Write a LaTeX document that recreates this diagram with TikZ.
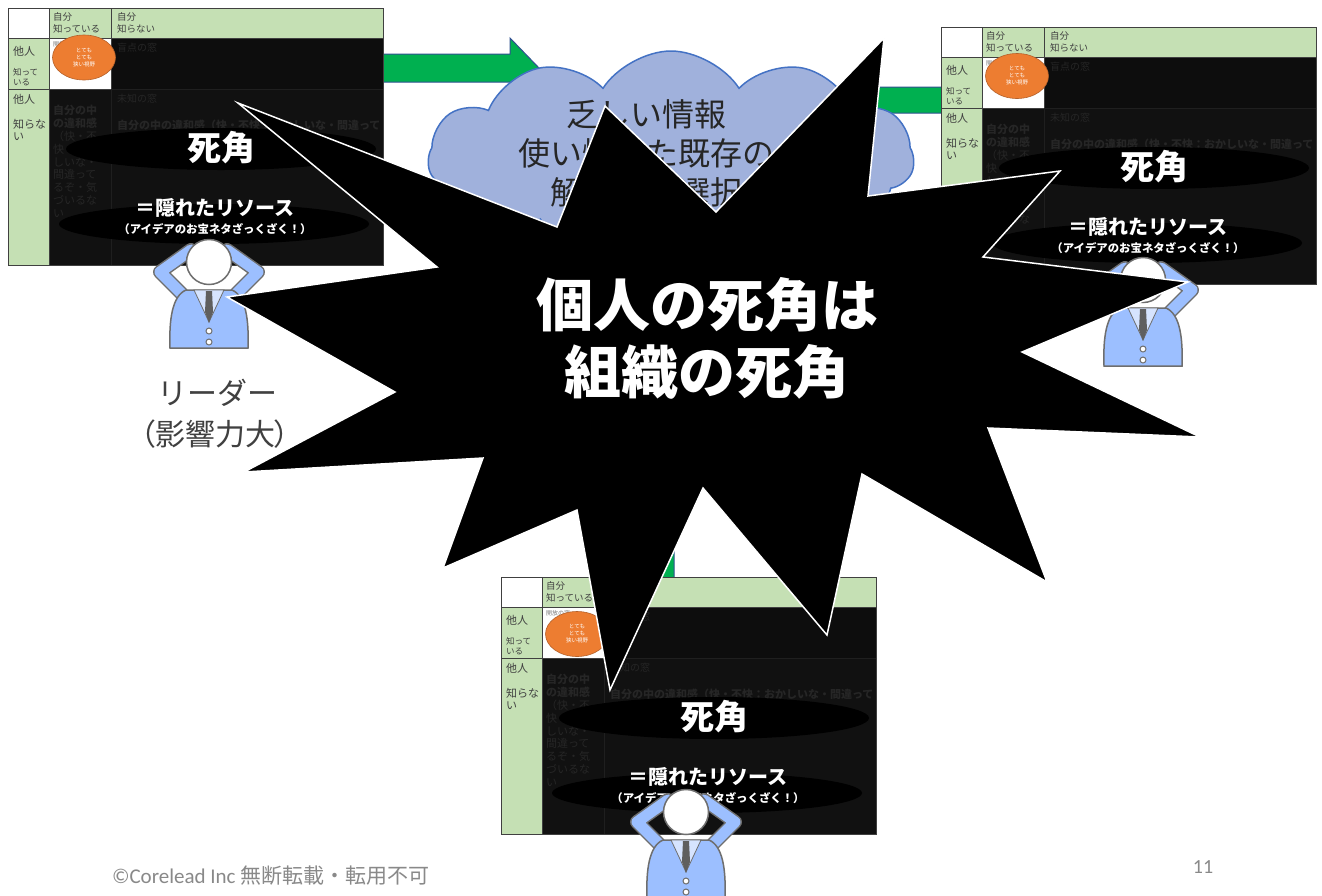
\documentclass[tikz,border=0pt]{standalone}
\usepackage{fontspec}
\setmainfont{Noto Sans CJK JP}
\newfontfamily\jpprop{Noto Sans CJK JP}[RawFeature=+palt]
\newfontfamily\latinfont{Carlito}
\usetikzlibrary{shapes.symbols,shapes.geometric}

\definecolor{jgreen}{HTML}{C5E0B4}
\definecolor{cellA}{HTML}{0D0D0D}
\definecolor{cellB}{HTML}{111111}
\definecolor{ghostc}{HTML}{262626}
\definecolor{gridc}{HTML}{404040}
\definecolor{eorange}{HTML}{ED7D31}
\definecolor{eorangeline}{HTML}{B5612A}
\definecolor{arrowg}{HTML}{00B050}
\definecolor{arrowb}{HTML}{2F528F}
\definecolor{cloudf}{HTML}{A0B1DC}
\definecolor{cloudl}{HTML}{4472C4}
\definecolor{suit}{HTML}{9CBFFF}
\definecolor{shirt}{HTML}{D6E4FF}
\definecolor{pline}{HTML}{6E6E6E}
\definecolor{tiec}{HTML}{5F5F5F}
\definecolor{textg}{HTML}{404040}
\definecolor{footg}{HTML}{898989}

\newcommand{\fsz}[2]{\fontsize{#1}{#2}\selectfont}

\tikzset{
  txt/.style={inner sep=0pt, outer sep=0pt},
  hdr/.style={txt, anchor=north west, align=left, text=textg, font=\fsz{9.5}{12.5}},
  side/.style={txt, anchor=north west, align=left, text=textg, font=\fsz{11}{12}},
  sidesm/.style={txt, anchor=north west, align=left, text=textg, font=\fsz{8.5}{10}},
  tinytext/.style={txt, anchor=north west, text=gray, font=\fsz{6}{7}},
  oval/.style={ellipse, draw=eorangeline, line width=0.6, fill=eorange, text=white,
    minimum width=63pt, minimum height=45pt, inner sep=0pt, align=center, font=\fsz{5.5}{7}},
  ghost/.style={txt, anchor=north west, text=ghostc, font=\fsz{10}{12}},
  ghostbold/.style={txt, anchor=north west, text=ghostc, font=\bfseries\fsz{11}{12}},
  ghostcol/.style={txt, anchor=north west, align=left, text=ghostc, font=\fsz{11}{12.9}},
  deadtext/.style={txt, text=white, font=\bfseries\fsz{34}{38}},
  restext/.style={txt, text=white, font=\bfseries\fsz{20}{22}},
  ideatext/.style={txt, text=white, font=\bfseries\fsz{11.4}{13}},
  blockarrow/.style={fill=arrowg, draw=arrowb, line width=1},
  burst/.style={fill=black, draw=white, line width=1.5, line join=miter},
  bursttext/.style={txt, text=white, align=center, font=\bfseries\fsz{57}{67}},
  cloudtext/.style={txt, text=black!85, align=center, font=\fsz{32}{39}},
  leadertext/.style={txt, text=textg, font=\fsz{30}{36}},
}

% One Johari window panel: #1 name prefix, #2/#3 top-left corner, #4 y of the orange oval
\newcommand{\johari}[4]{%
\begin{scope}[shift={(#2,#3)}]
  \begin{scope}
    \clip (0,0) rectangle (375,257);
    \fill[white] (0,0) rectangle (41,30);
    \fill[jgreen] (41,0) rectangle (375,30);
    \fill[jgreen] (0,30) rectangle (41,257);
    \fill[white] (41,30) rectangle (103,81);
    \fill[cellA] (103,30) rectangle (375,81);
    \fill[cellB] (41,81) rectangle (375,257);
    \draw[gridc, line width=0.8] (41,0) -- (41,257) (103,0) -- (103,81)
      (0,30) -- (375,30) (0,81) -- (103,81);
    \draw[black!88, line width=0.8] (103,81) -- (103,257) (103,81) -- (375,81);
    \node[hdr] (#1-c2) at (45,4.2) {自分\\知っている};
    \node[hdr] (#1-c3) at (109,4.2) {自分\\知らない};
    \node[side] (#1-r1) at (5,38) {他人};
    \node[sidesm] (#1-r1b) at (5,60) {知って\\いる};
    \node[side] (#1-r2) at (5,86) {他人};
    \node[side] (#1-r2b) at (5,111.5) {知らな\\い};
    \node[tinytext] (#1-open) at (45,33) {開放の窓};
    \node[oval] (#1-oval) at (76,#4) {とても\\とても\\狭い視野};
    \node[ghost] (#1-blind) at (109,35.5) {盲点の窓};
    \node[ghost] (#1-unknown) at (109,86.5) {未知の窓};
    \node[ghostbold] (#1-feel) at (109,112) {自分の中の違和感（快・不快：おかしいな・間違って};
    \node[ghostcol] (#1-feelcol) at (45,97) {\textbf{自分の中}\\\textbf{の違和感}\\（快・不\\快：おか\\しいな・\\間違って\\るぞ・気\\づいるな\\い};
    \fill[black] (213,141) ellipse [x radius=155pt, y radius=21pt];
    \fill[black] (206,216) ellipse [x radius=155pt, y radius=20pt];
    \node[deadtext] (#1-dead) at (213,140) {死角};
    \node[restext] (#1-res) at (207,200) {＝隠れたリソース};
    \node[ideatext] (#1-idea) at (207,221) {（アイデアのお宝ネタざっくざく！）};
  \end{scope}
  \draw[gridc, line width=0.9] (0,0) rectangle (375,257);
\end{scope}}

% Business person holding his head, #1/#2 centre of the head
\newcommand{\person}[2]{%
\begin{scope}[shift={(#1,#2)}]
  \draw[pline, line width=14, line join=round, line cap=round]
    (-27,32) -- (-49,10) -- (-18,-12) (27,32) -- (49,10) -- (18,-12);
  \draw[suit, line width=11, line join=round, line cap=round]
    (-27,32) -- (-49,10) -- (-18,-12) (27,32) -- (49,10) -- (18,-12);
  \draw[pline, line width=1.5, fill=suit] (-39,86) .. controls (-40,58) and (-37,34) .. (-23,28)
    -- (23,28) .. controls (37,34) and (40,58) .. (39,86) -- cycle;
  \draw[pline, line width=0.8, fill=shirt] (-15,28) -- (15,28) -- (0,60) -- cycle;
  \fill[tiec] (-3,29) -- (3,29) -- (4,50) -- (0,61) -- (-4,50) -- cycle;
  \draw[pline, line width=1, fill=white] (0,69) circle (3pt) (0,80) circle (3pt);
  \draw[pline, line width=1.5, fill=white] (0,0) circle (22.5pt);
\end{scope}}

\begin{document}
\begin{tikzpicture}[x=1pt,y=-1pt]
\useasboundingbox (0,0) rectangle (1322,895);
\fill[white] (0,0) rectangle (1322,895);

% green block arrows between the panels and the cloud
\draw[blockarrow] (370,54) -- (510,54) -- (510,38) -- (539,68) -- (510,98) -- (510,82) -- (370,82) -- cycle;
\draw[blockarrow] (860,87) -- (960,87) -- (960,72) -- (990,100) -- (960,128) -- (960,113) -- (860,113) -- cycle;
\draw[blockarrow] (645,230) -- (674,230) -- (674,590) -- (689,590) -- (659.5,620) -- (630,590) -- (645,590) -- cycle;

% cloud
\node[cloud, cloud puffs=11, cloud puff arc=115, aspect=2.3, fill=cloudf, draw=cloudl, line width=1.5,
  minimum width=486pt, minimum height=214pt] (cloud) at (671,158) {};
\node[cloudtext] (cloudtxt) at (646,153) {乏しい情報\\使い慣れた既存の\\解決策の選択};

% Johari windows
\johari{ja}{8}{8}{49.5}
\johari{jb}{941}{27}{49}
\johari{jc}{501}{577}{57}

% people
\person{209}{262}
\person{1143}{280}
\person{686}{812}

\node[leadertext] (leader) at (217,393) {リーダー};
\node[leadertext, font=\jpprop\fsz{30}{36}] (influence) at (215,434) {（影響力大）};

% explosion
\draw[burst] (884,38) -- (868,196) -- (1060,171) -- (983,257) -- (1188,282) -- (1022,352)
  -- (1200,437) -- (988,428) -- (1047,582) -- (862,474) -- (827,635) -- (703,488)
  -- (610,690) -- (577,510) -- (443,568) -- (483,458) -- (244,472) -- (395,392)
  -- (227,297) -- (437,267) -- (238,103) -- (557,227) -- (605,106) -- (716,212) -- cycle;
\node[bursttext] (message) at (707,338) {個人の死角は\\組織の死角};

% footer
\node[txt, anchor=west, text=footg, font=\fsz{21}{24}] (copyright) at (112,876)
  {{\latinfont ©Corelead Inc} 無断転載・転用不可};
\node[txt, text=footg, font=\latinfont\fsz{20}{24}] (pageno) at (1203,867) {11};
\end{tikzpicture}
\end{document}
